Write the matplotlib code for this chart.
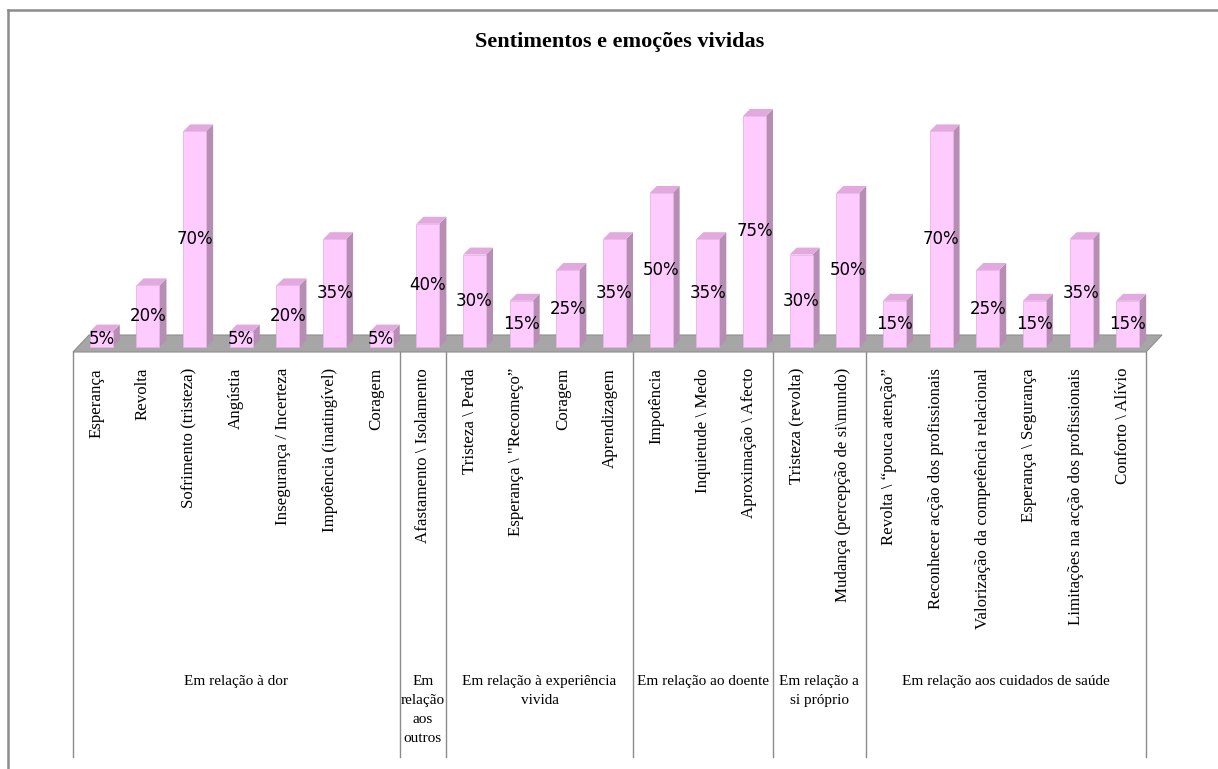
import matplotlib
matplotlib.use("Agg")
import matplotlib.pyplot as plt
import matplotlib.transforms as mtransforms
from matplotlib.patches import Polygon
from matplotlib.lines import Line2D
import numpy as np

title = "Sentimentos e emoções vividas"
categories = [
    "Esperança", "Revolta", "Sofrimento (tristeza)", "Angústia",
    "Insegurança / Incerteza", "Impotência (inatingível)", "Coragem",
    "Afastamento \\ Isolamento",
    "Tristeza \\ Perda", "Esperança \\ \"Recomeço”", "Coragem", "Aprendizagem",
    "Impotência", "Inquietude \\ Medo", "Aproximação \\ Afecto",
    "Tristeza (revolta)", "Mudança (percepção de si\\mundo)",
    "Revolta \\ “pouca atenção”", "Reconhecer acção dos profissionais",
    "Valorização da competência relacional", "Esperança \\ Segurança",
    "Limitações na acção dos profissionais", "Conforto \\ Alívio",
]
values = [5, 20, 70, 5, 20, 35, 5, 40, 30, 15, 25, 35, 50, 35, 75, 30, 50,
          15, 70, 25, 15, 35, 15]
groups = ["Em relação à dor", "Em\nrelação\naos\noutros",
          "Em relação à experiência\nvivida", "Em relação ao doente",
          "Em relação a\nsi próprio", "Em relação aos cuidados de saúde"]
group_sizes = [7, 1, 4, 3, 2, 6]

W, H = 1218, 769
fig = plt.figure(figsize=(W / 100, H / 100), dpi=100)
fig.patch.set_facecolor("white")

# axes in figure pixel geometry
ax_left, ax_right = 73, 1146
base_px = 347
px_per_pct = 3.08
ymax = 80
ax = fig.add_axes([ax_left / W, 1 - base_px / H, (ax_right - ax_left) / W,
                   ymax * px_per_pct / H])
n = len(categories)
ax.set_xlim(-0.5, n - 0.5)
ax.set_ylim(0, ymax)
ax.axis("off")

unit_px = (ax_right - ax_left) / n
ddx = 7 / unit_px
ddy = 7 / px_per_pct
shift = 5 / unit_px
bw = 23 / unit_px

front_c = "#FDCBFD"
side_c = "#B68DB3"
top_c = "#E2A9DF"

# floor
f_front = -5 / px_per_pct
f_back = 12 / px_per_pct
f_dx = 16 / unit_px
floor = Polygon([(-0.5, f_front), (n - 0.5, f_front),
                 (n - 0.5 + f_dx, f_back), (-0.5 + f_dx, f_back)],
                closed=True, facecolor="#A6A6A6", edgecolor="#8F8F8F",
                linewidth=0.8, clip_on=False, zorder=1)
ax.add_patch(floor)

x = np.arange(n)
xf = x + shift
ax.bar(xf, values, width=bw, color=front_c, edgecolor="#E7B3E6",
       linewidth=0.6, zorder=3, clip_on=False)
for xi, v in zip(xf, values):
    x0, x1 = xi - bw / 2, xi + bw / 2
    side = Polygon([(x1, 0), (x1 + ddx, ddy), (x1 + ddx, v + ddy), (x1, v)],
                   closed=True, facecolor=side_c, edgecolor="none",
                   clip_on=False, zorder=2)
    top = Polygon([(x0, v), (x0 + ddx, v + ddy), (x1 + ddx, v + ddy), (x1, v)],
                  closed=True, facecolor=top_c, edgecolor="none",
                  clip_on=False, zorder=2)
    ax.add_patch(side)
    ax.add_patch(top)
    ax.text(xi, v / 2, f"{v}%", ha="center", va="center", fontsize=12,
            family=["Liberation Sans Narrow", "DejaVu Sans"], color="black",
            zorder=5, clip_on=False)

trans = mtransforms.blended_transform_factory(ax.transData, fig.transFigure)

serif = ["Liberation Serif", "DejaVu Serif"]
for xi, lab in zip(x, categories):
    ax.text(xi, 1 - 368 / H, lab, rotation=90, ha="center", va="top",
            fontsize=12.2, family=serif, transform=trans, clip_on=False)

# separators and group labels
bounds = np.concatenate([[0], np.cumsum(group_sizes)]) - 0.5
sep_top = 1 - 352 / H
sep_bot = 1 - 757 / H
for b in bounds:
    ax.add_line(Line2D([b, b], [sep_bot, sep_top], transform=trans,
                       color="#8C8C8C", linewidth=1.0, clip_on=False))
for g, a, b in zip(groups, bounds[:-1], bounds[1:]):
    ax.text((a + b) / 2, 1 - 675 / H, g, ha="center", va="top",
            fontsize=11, family=serif, transform=trans, linespacing=1.6,
            clip_on=False)

# title
fig.text(620 / W, 1 - 42 / H, title, ha="center", va="center", fontsize=16,
         fontweight="bold", family=serif)

# outer frame (top and left visible)
fig.add_artist(Line2D([8 / W, 8 / W], [0, 1 - 10 / H], transform=fig.transFigure,
                      color="#8C8C8C", linewidth=1.8))
fig.add_artist(Line2D([8 / W, 1], [1 - 10 / H, 1 - 10 / H], transform=fig.transFigure,
                      color="#8C8C8C", linewidth=1.8))

fig.savefig("out.png", dpi=100)
